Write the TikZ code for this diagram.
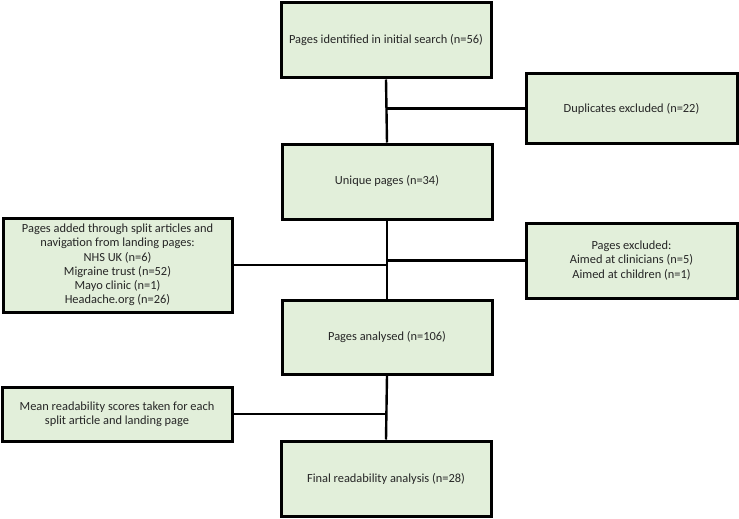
\documentclass[tikz,border=0pt]{standalone}
\usepackage{fontspec}
\setmainfont{Carlito}
\definecolor{boxfill}{HTML}{E2EFDA}
\definecolor{txt}{HTML}{262626}
\begin{document}
\begin{tikzpicture}[x=1pt,y=-1pt,
  box/.style={draw=black, line width=3pt, fill=boxfill, text=txt, align=center,
    font=\fontsize{12.4}{14.3}\selectfont, inner sep=2pt},
  conn/.style={draw=black, line width=2.4pt}]
\useasboundingbox (0,0) rectangle (739,519);
\fill[white] (0,0) rectangle (739,519);
% nodes
\node[box, minimum width=210pt, minimum height=75pt] (b1) at (386,40.5) {Pages identified in initial search (n=56)};
\node[box, minimum width=211pt, minimum height=69pt] (dup) at (631.5,108.5) {Duplicates excluded (n=22)};
\node[box, minimum width=210pt, minimum height=75pt] (b2) at (387,181.5) {Unique pages (n=34)};
\node[box, minimum width=229pt, minimum height=94pt] (add) at (117.5,265) {Pages added through split articles and\\navigation from landing pages:\\NHS UK (n=6)\\Migraine trust (n=52)\\Mayo clinic (n=1)\\Headache.org (n=26)};
\node[box, minimum width=211pt, minimum height=75pt] (exc) at (631.5,260.5) {Pages excluded:\\Aimed at clinicians (n=5)\\Aimed at children (n=1)};
\node[box, minimum width=210pt, minimum height=74pt] (b3) at (387,337) {Pages analysed (n=106)};
\node[box, minimum width=230pt, minimum height=54pt] (mean) at (117,414) {Mean readability scores taken for each\\split article and landing page};
\node[box, minimum width=210pt, minimum height=75pt] (b4) at (386,478.5) {Final readability analysis (n=28)};
% connectors
\draw[conn] (b1.south) -- (b2.north);
\draw[conn] (dup.west) -- (dup.west -| b1.south);
\draw[conn] (b2.south) -- (b3.north);
\draw[conn] (add.east) -- (add.east -| b2.south);
\draw[conn] (exc.west) -- (exc.west -| b2.south);
\draw[conn] (b3.south) -- (b4.north);
\draw[conn] (mean.east) -- (mean.east -| b3.south);
\end{tikzpicture}
\end{document}
